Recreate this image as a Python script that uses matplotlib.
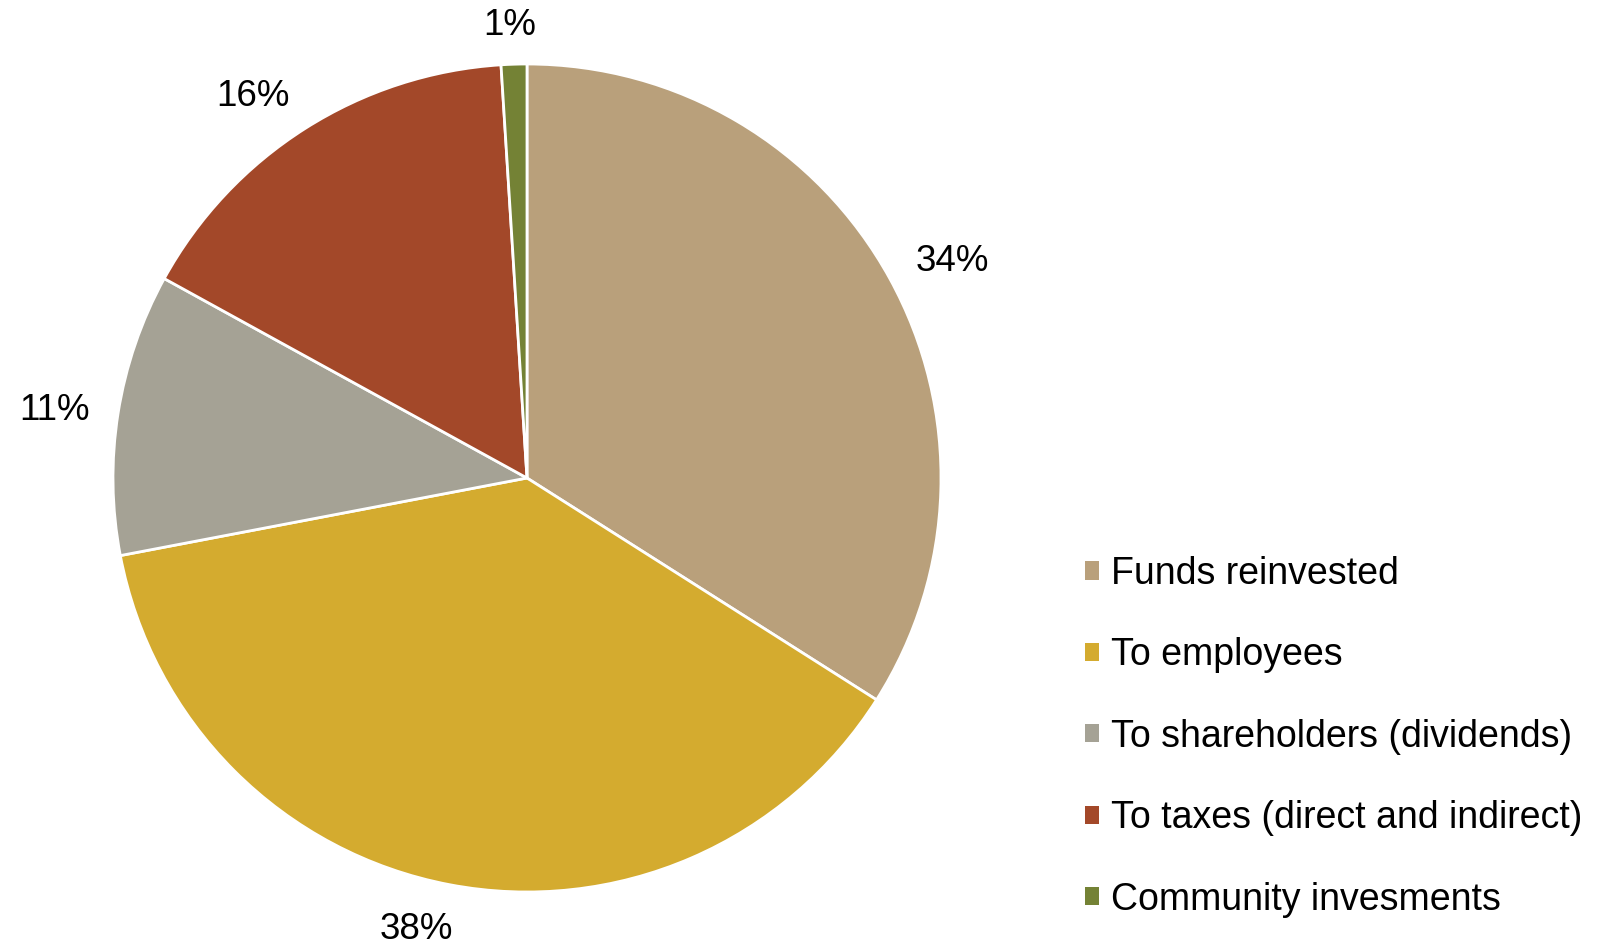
import numpy as np
import matplotlib.pyplot as plt
from matplotlib.patches import Patch

plt.rcParams['font.family'] = ['Liberation Sans', 'DejaVu Sans']

categories = ["Funds reinvested", "To employees", "To shareholders (dividends)",
              "To taxes (direct and indirect)", "Community invesments"]
shares = [34, 38, 11, 16, 1]
colors = ["#B9A07B", "#D4AB2F", "#A5A295", "#A34829", "#748235"]

FS = 26.5
fig = plt.figure(figsize=(16.01, 9.48), dpi=100)
ax = fig.add_axes([113 / 1601, (948 - 892) / 948, 828 / 1601, 828 / 948])

wedges, texts, autotexts = ax.pie(
    shares, colors=colors, startangle=90, counterclock=False,
    autopct=lambda p: f"{p:.0f}%", pctdistance=1.15,
    wedgeprops=dict(edgecolor="white", linewidth=2),
    textprops=dict(fontsize=FS, color="black"))
ax.set_xlim(-1, 1)
ax.set_ylim(-1, 1)
ax.set_aspect("equal")
ax.axis("off")

# "outside end" labels: anchor point just past the rim, box pushed outward
fig.canvas.draw()
renderer = fig.canvas.get_renderer()
px_per_unit = ax.transData.transform((1, 0))[0] - ax.transData.transform((0, 0))[0]
cap = 0.716 * FS * fig.dpi / 72 / px_per_unit
for w, t in zip(wedges, autotexts):
    ang = np.deg2rad((w.theta1 + w.theta2) / 2)
    ux, uy = np.cos(ang), np.sin(ang)
    bw = t.get_window_extent(renderer).width / px_per_unit
    cx = 1.07 * ux + bw / 2 * np.clip(4 * ux, -1, 1)
    cy = 1.07 * uy + cap / 2 * uy
    t.set_position((cx, cy - cap / 2))
    t.set_ha("center")
    t.set_va("baseline")

handles = [Patch(facecolor=c, edgecolor="none") for c in colors]
fig.legend(handles, categories, loc="upper left", bbox_to_anchor=(1070 / 1601, 1 - 541 / 948),
           frameon=False, fontsize=27, handlelength=0.373, handleheight=0.373,
           handletextpad=0.32, labelspacing=1.21, borderaxespad=0)

fig.savefig("out.png", dpi=100)
